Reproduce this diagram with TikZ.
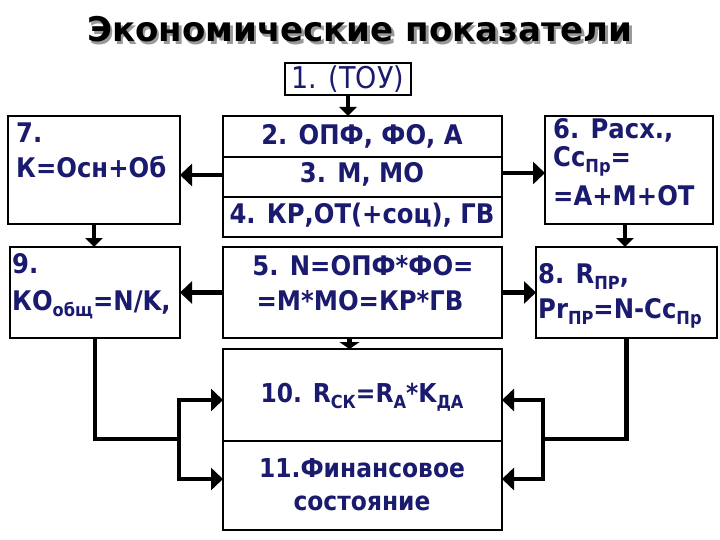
\documentclass[tikz,border=0pt]{standalone}
\usepackage{fontspec}
\setmainfont{DejaVu Sans}[FakeStretch=0.9]
\newfontfamily\titlefont{DejaVu Sans}
\usetikzlibrary{arrows.meta}
\definecolor{navy}{HTML}{1A1A6E}
\newcommand{\lowsub}[1]{\raisebox{-6pt}{\fontsize{18}{18}\selectfont #1}}
\newcommand{\shadowtext}[1]{\makebox[0pt][l]{\hspace{2.5pt}\raisebox{-2.5pt}{\color{black!40}#1}}#1}
\begin{document}
\begin{tikzpicture}[x=1pt,y=-1pt,
  box/.style={draw=black,line width=1.4pt,fill=white,inner sep=0pt,outer sep=0pt},
  txt/.style={text=navy,inner sep=0pt,font=\bfseries\fontsize{27}{30}\selectfont},
  line/.style={line width=4.4pt},
  arr/.style={line width=4.4pt,-{Triangle[length=12pt,width=22pt]}},
  sarr/.style={line width=4.4pt,-{Triangle[length=9pt,width=17pt]}}]
\useasboundingbox (0,0) rectangle (720,540);
\fill[white] (0,0) rectangle (720,540);
% title
\node[inner sep=0pt,anchor=base,text=black,font=\titlefont\bfseries\fontsize{34}{36}\selectfont] (title) at (360,42) {\shadowtext{Экономические показатели}};
% boxes
\node[box,minimum width=126,minimum height=32] (b1) at (348,79) {};
\node[box,minimum width=172,minimum height=108] (b7) at (94,170) {};
\node[box,minimum width=279,minimum height=41] (b2) at (362.5,136.5) {};
\node[box,minimum width=279,minimum height=40] (b3) at (362.5,177) {};
\node[box,minimum width=279,minimum height=40] (b4) at (362.5,217) {};
\node[box,minimum width=168,minimum height=108] (b6) at (629,170) {};
\node[box,minimum width=170,minimum height=91] (b9) at (95,292.5) {};
\node[box,minimum width=279,minimum height=91] (b5) at (362.5,292.5) {};
\node[box,minimum width=181,minimum height=91] (b8) at (626.5,292.5) {};
\node[box,minimum width=279,minimum height=92] (b10) at (362.5,395) {};
\node[box,minimum width=279,minimum height=89] (b11) at (362.5,485.5) {};
% texts
\node[txt,anchor=base,font=\mdseries\fontsize{30}{32}\selectfont] (t1) at (348,89) {1. (ТОУ)};
\node[txt,anchor=base west] (t7a) at (16,143) {7.};
\node[txt,anchor=base west] (t7b) at (16,178) {К=Осн+Об};
\node[txt,anchor=base] (t2) at (362,145) {2. ОПФ, ФО, А};
\node[txt,anchor=base] (t3) at (362,183) {3. М, МО};
\node[txt,anchor=base] (t4) at (362,223) {4. КР,ОТ(+соц), ГВ};
\node[txt,anchor=base west] (t6a) at (553,139) {6. Расх.,};
\node[txt,anchor=base west] (t6b) at (553,167) {Сс\lowsub{Пр}=};
\node[txt,anchor=base west] (t6c) at (553,206) {=А+М+ОТ};
\node[txt,anchor=base west] (t9a) at (12,273) {9.};
\node[txt,anchor=base west] (t9b) at (12,310) {КО\lowsub{общ}=N/K,};
\node[txt,anchor=base] (t5a) at (363,275) {5. N=ОПФ*ФО=};
\node[txt,anchor=base] (t5b) at (360,310) {=М*МО=КР*ГВ};
\node[txt,anchor=base west] (t8a) at (538,283) {8. R\lowsub{ПР},};
\node[txt,anchor=base west] (t8b) at (538,318) {Pr\lowsub{ПР}=N-Сс\lowsub{Пр}};
\node[txt,anchor=base,font=\bfseries\fontsize{26}{30}\selectfont] (t10) at (362,402) {10. R\lowsub{СК}=R\lowsub{А}*K\lowsub{ДА}};
\node[txt,anchor=base,font=\bfseries\fontsize{26}{30}\selectfont] (t11a) at (362,477) {11.Финансовое};
\node[txt,anchor=base,font=\bfseries\fontsize{26}{30}\selectfont] (t11b) at (362,510) {состояние};
% connectors
\draw[sarr] (b1.south) -- (b1.south |- b2.north);
\draw[arr] ([yshift=2pt]b3.west) -- ([yshift=2pt]b3.west -| b7.east);
\draw[arr] ([yshift=4pt]b3.east) -- ([yshift=4pt]b3.east -| b6.west);
\draw[sarr] (b7.south) -- (b7.south |- b9.north);
\draw[sarr] ([xshift=-4pt]b6.south) -- ([xshift=-4pt]b6.south |- b8.north);
\draw[arr] (b5.west) -- (b5.west -| b9.east);
\draw[arr] (b5.east) -- (b5.east -| b8.west);
\draw[line width=4.4pt,-{Triangle[length=7pt,width=20pt]}] ([xshift=-13pt]b5.south) -- ([xshift=-13pt]b10.north);
\coordinate (jl) at (179,439);
\coordinate (jr) at (543,439);
\draw[line,line join=miter] (b9.south) |- (jl);
\draw[arr,line join=miter] (jl) |- ([yshift=-5pt]b10.west);
\draw[arr,line join=miter] (jl) |- ([yshift=6.5pt]b11.west);
\draw[line,line join=miter] (b8.south) |- (jr);
\draw[arr,line join=miter] (jr) |- ([yshift=-5pt]b10.east);
\draw[arr,line join=miter] (jr) |- ([yshift=6.5pt]b11.east);
\end{tikzpicture}
\end{document}
